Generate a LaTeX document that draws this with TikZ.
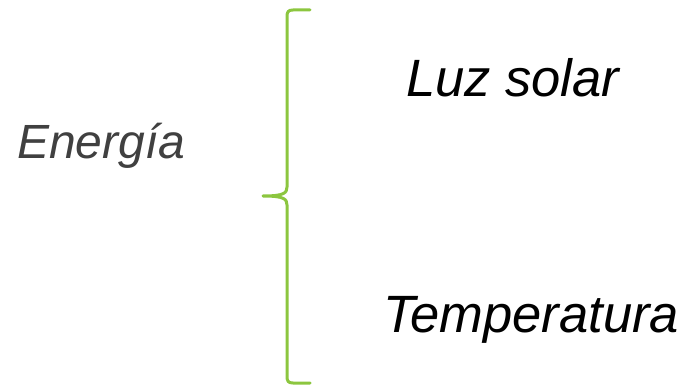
\documentclass[tikz,border=0pt]{standalone}
\usepackage{fontspec}
\setmainfont{Liberation Sans}
\definecolor{bracegreen}{RGB}{140,198,63}
\definecolor{labelgray}{RGB}{64,64,64}
\begin{document}
\begin{tikzpicture}[x=1pt,y=-1pt,
  label/.style={anchor=base west,inner sep=0pt,font=\itshape},
  bracestyle/.style={draw=bracegreen,line width=3pt,line cap=round,line join=round}]
\useasboundingbox (0,0) rectangle (688,387);
% curly brace grouping the two factors
\coordinate (bt) at (310,10);
\coordinate (bm) at (263,196);
\coordinate (bb) at (310,383);
\draw[bracestyle] (bt) -- (293,10) .. controls (288,10) and (287,12) .. (287,17)
  -- (287,187) .. controls (287,193) and (284,196) .. (bm)
  .. controls (284,196) and (287,199) .. (287,205)
  -- (287,376) .. controls (287,381) and (288,383) .. (293,383) -- (bb);
\node[label,text=labelgray,font=\itshape\fontsize{48}{48}\selectfont] (en) at (17,159) {Energía};
\node[label,text=black,font=\itshape\fontsize{52.5}{52.5}\selectfont] (luz) at (406,97) {Luz solar};
\node[label,text=black,font=\itshape\fontsize{52.5}{52.5}\selectfont] (temp) at (383,333) {Temperatura};
\end{tikzpicture}
\end{document}
